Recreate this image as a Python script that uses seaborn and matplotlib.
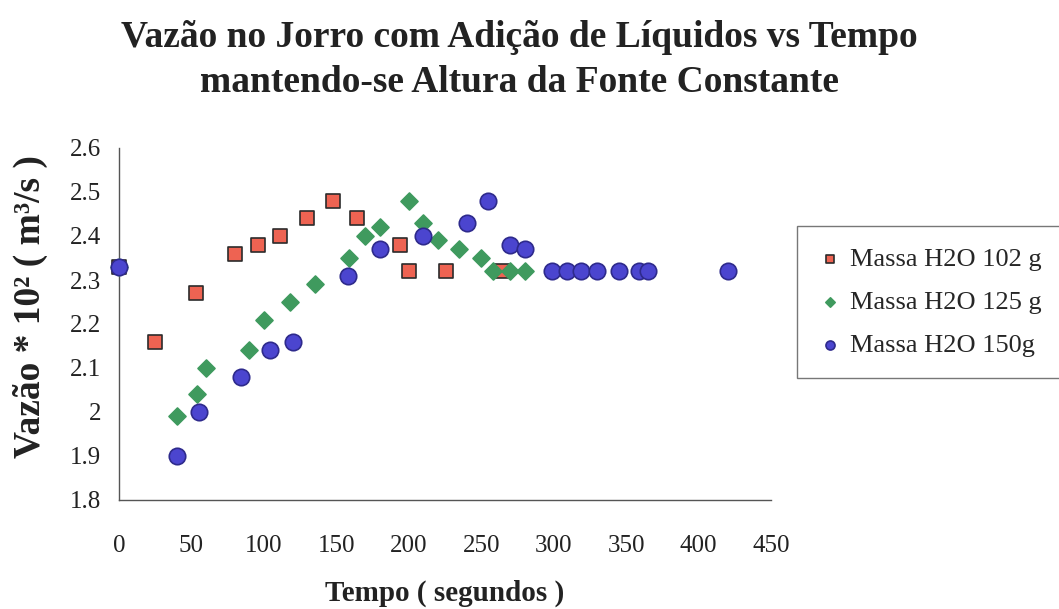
import numpy as np
import pandas as pd
import matplotlib
matplotlib.use("Agg")
import matplotlib.pyplot as plt
from matplotlib.ticker import MultipleLocator, FormatStrFormatter
import seaborn as sns

# data
t_102 = [0, 25, 53, 80, 96, 111, 130, 148, 164, 194, 200, 226, 264]
v_102 = [2.33, 2.16, 2.27, 2.36, 2.38, 2.40, 2.44, 2.48, 2.44, 2.38, 2.32, 2.32, 2.32]

t_125 = [0, 40, 54, 60, 90, 100, 118, 135, 159, 170, 180, 200, 210, 220, 235, 250, 258, 270, 280]
v_125 = [2.33, 1.99, 2.04, 2.10, 2.14, 2.21, 2.25, 2.29, 2.35, 2.40, 2.42, 2.48, 2.43, 2.39, 2.37, 2.35,
         2.32, 2.32, 2.32]

t_150 = [0, 40, 55, 84, 104, 120, 158, 180, 210, 240, 255, 270, 280, 299, 309, 319, 330, 345, 359, 365, 420]
v_150 = [2.33, 1.90, 2.00, 2.08, 2.14, 2.16, 2.31, 2.37, 2.40, 2.43, 2.48, 2.38, 2.37, 2.32, 2.32, 2.32,
         2.32, 2.32, 2.32, 2.32, 2.32]

labels = ["Massa H2O 102 g", "Massa H2O 125 g", "Massa H2O 150g"]

df = pd.concat([
    pd.DataFrame({"Tempo": t_102, "Vazao": v_102, "Serie": labels[0]}),
    pd.DataFrame({"Tempo": t_125, "Vazao": v_125, "Serie": labels[1]}),
    pd.DataFrame({"Tempo": t_150, "Vazao": v_150, "Serie": labels[2]}),
], ignore_index=True)

sns.set_style("white")
plt.rcParams["font.family"] = ["Liberation Serif", "DejaVu Serif"]

palette = {labels[0]: "#ee6352", labels[1]: "#3f9a5e", labels[2]: "#4b45cf"}
markers = {labels[0]: "s", labels[1]: "D", labels[2]: "o"}
sizes = {labels[0]: 100, labels[1]: 75, labels[2]: 140}
edges = {labels[0]: "#2b2b2b", labels[1]: "#3f9a5e", labels[2]: "#2e2a8c"}

fig = plt.figure(figsize=(10.59, 6.09), dpi=100)
ax = fig.add_axes([119 / 1059, 1 - 500 / 609, 652 / 1059, 352 / 609])

for lab in labels:
    sub = df[df["Serie"] == lab]
    sns.scatterplot(
        data=sub, x="Tempo", y="Vazao", ax=ax, color=palette[lab],
        marker=markers[lab], s=sizes[lab], edgecolor=edges[lab], linewidth=1.2,
        label=lab, clip_on=False, zorder=3,
    )

ax.set_xlim(0, 450)
ax.set_ylim(1.8, 2.6)
ax.xaxis.set_major_locator(MultipleLocator(50))
ax.xaxis.set_minor_locator(MultipleLocator(15))
ax.yaxis.set_major_locator(MultipleLocator(0.1))
ax.yaxis.set_minor_locator(MultipleLocator(0.05))
ax.yaxis.set_major_formatter(FormatStrFormatter("%g"))
ax.xaxis.set_major_formatter(FormatStrFormatter("%g"))

for s in ["top", "right"]:
    ax.spines[s].set_visible(False)
for s in ["left", "bottom"]:
    ax.spines[s].set_color("#555555")
    ax.spines[s].set_linewidth(1.0)

ax.tick_params(axis="both", which="major", direction="out", length=6, width=1,
               color="#555555", labelsize=18, labelcolor="#222222")
ax.tick_params(axis="x", which="major", pad=19)
ax.tick_params(axis="both", which="minor", direction="in", length=4, width=1,
               color="#555555")
ax.tick_params(axis="y", which="major", direction="inout", length=8, pad=9)

ax.set_xlabel("Tempo ( segundos )", fontsize=21, fontweight="bold", color="#222222")
ax.xaxis.set_label_coords(445 / 1059, 1 - 580 / 609, transform=fig.transFigure)
ax.set_ylabel("Vazão * 10² ( m³/s )", fontsize=27, fontweight="bold", color="#222222")
ax.yaxis.set_label_coords(48 / 1059, 1 - 307 / 609, transform=fig.transFigure)

fig.text(519 / 1059, 1 - 60 / 609,
         "Vazão no Jorro com Adição de Líquidos vs Tempo\nmantendo-se Altura da Fonte Constante",
         ha="center", va="center", fontsize=27, fontweight="bold", color="#222222", linespacing=1.38)

leg = ax.legend(loc="upper left", bbox_to_anchor=(797 / 1059, 1 - 226 / 609),
                bbox_transform=fig.transFigure, frameon=True, fancybox=False,
                fontsize=19, markerscale=0.55, handletextpad=0.3, handlelength=0.9,
                labelspacing=0.75, borderpad=0.8, borderaxespad=0)
leg.get_frame().set_edgecolor("#555555")
leg.get_frame().set_linewidth(1.0)

fig.savefig("out.png", dpi=100)
